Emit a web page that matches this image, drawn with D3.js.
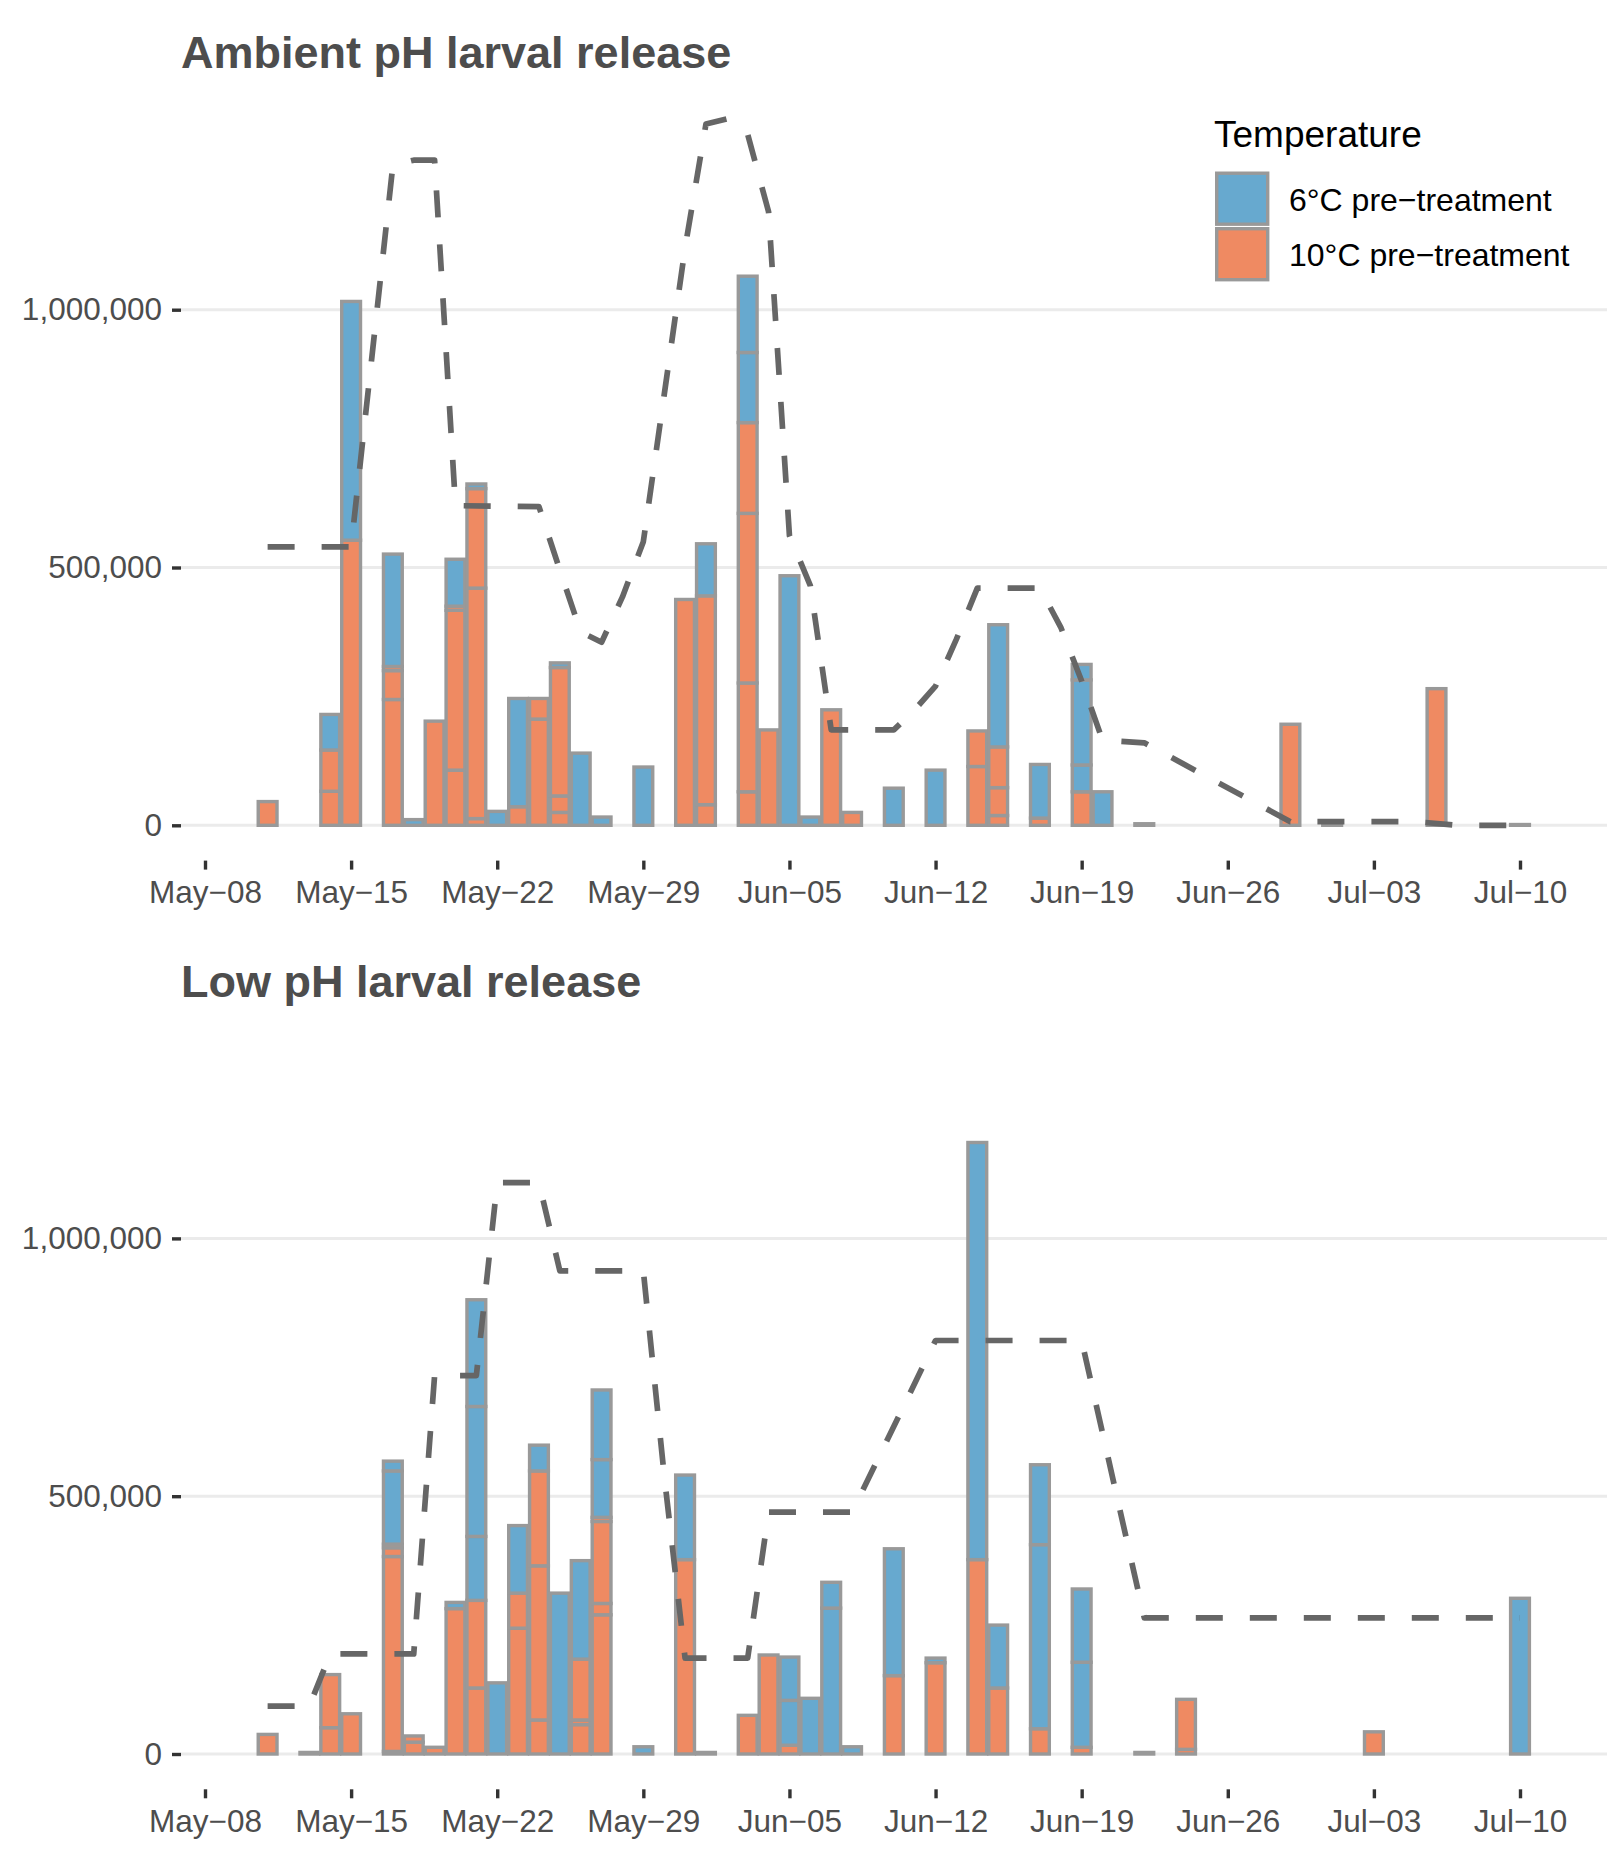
<!DOCTYPE html>
<html>
<head>
<meta charset="utf-8">
<script src="https://cdn.jsdelivr.net/npm/d3@7"></script>
<style>
  html, body { margin: 0; padding: 0; background: #ffffff; }
  svg { display: block; }
  text { font-family: "Liberation Sans", Arial, Helvetica, sans-serif; }
</style>
</head>
<body>
<script>
// ---------------- DATA ----------------
const xTickDates = ["05-08","05-15","05-22","05-29","06-05","06-12","06-19","06-26","07-03","07-10"];
const yTickValues = [0, 500000, 1000000];
const legendLabels = ["6\u00B0C pre\u2212treatment", "10\u00B0C pre\u2212treatment"];
const panelTitles = ["Ambient pH larval release", "Low pH larval release"];

// Ambient pH: bars (stacked segments, bottom-up). warm = 10°C, cold = 6°C
const ambientDates = ["05-11","05-14","05-15","05-17","05-18","05-19","05-20","05-21","05-22","05-23",
  "05-24","05-25","05-26","05-27","05-29","05-31","06-01","06-03","06-04","06-05",
  "06-06","06-07","06-08","06-10","06-12","06-14","06-15","06-17","06-19","06-20",
  "06-22","06-29","07-01","07-06","07-10"];
const ambientWarm = [
  [46000],[66000,80000],[553000],[244000,56000,8000],[],[202000],[107000,310000,8000],[13000,447000,193000],[],[36000],
  [206000,40000],[25000,32000,249000],[],[],[],[438000],[40000,405000],[65000,211000,329000,176000],[185000],[],
  [],[224000],[25000],[],[],[114000,69000],[19000,54000,79000],[14000],[65000],[],
  [],[196000],[],[265000],[]
];
const ambientCold = [
  [],[69000],[463000],[218000],[11000],[],[91000],[9000],[27000],[210000],
  [],[9000],[140000],[16000],[113000],[],[101000],[136000,148000],[],[484000],
  [16000],[],[],[72000],[107000],[],[237000],[104000],[52000,165000,30000],[65000],
  [3000],[],[2000],[],[1500]
];
const ambientLineDates = ["05-11","05-15","05-16","05-17","05-18","05-19","05-20","05-24","05-25","05-26",
  "05-27","05-28","05-29","05-30","05-31","06-01","06-02","06-03","06-04","06-05",
  "06-06","06-07","06-10","06-11","06-12","06-13","06-14","06-17","06-18","06-19",
  "06-20","06-22","06-29","07-05","07-07","07-10"];
const ambientLineValues = [540000,540000,910000,1280000,1290000,1290000,620000,618000,495000,375000,
  355000,443000,550000,835000,1120000,1360000,1370000,1340000,1190000,562000,
  465000,185000,185000,224000,270000,361000,460000,460000,384000,280000,
  165000,160000,7000,7000,0,0];

// Low pH
const lowDates = ["05-11","05-13","05-14","05-15","05-17","05-18","05-19","05-20","05-21","05-22",
  "05-23","05-24","05-25","05-26","05-27","05-29","05-31","06-01","06-03","06-04",
  "06-05","06-06","06-07","06-08","06-10","06-12","06-14","06-15","06-17","06-19",
  "06-22","06-24","07-03","07-10"];
const lowWarm = [
  [38000],[],[51000,103000],[78000],[5000,378000,17000,7000],[23000,12000],[13000],[282000],[128000,170000],[],
  [244000,68000],[66000,299000,184000],[],[57000,9000,118000],[270000,22000,159000,8000],[],[377000],[],[75000],[192000],
  [17000],[],[],[],[152000],[177000],[377000],[128000],[49000],[13000],
  [],[9000,97000],[43000],[]
];
const lowCold = [
  [],[3000],[],[],[142000,19000],[],[],[12000],[124000,252000,207000],[138000],
  [131000],[50000],[312000],[191000],[112000,135000],[14000],[164000],[3000],[],[],
  [87000,84000],[108000],[283000,50000],[14000],[246000],[9000],[809000],[122000],[357000,155000],[165000,142000],
  [3000],[],[],[302000]
];
const lowLineDates = ["05-11","05-13","05-14","05-18","05-19","05-21","05-22","05-24","05-25","05-29",
  "05-30","05-31","06-03","06-04","06-08","06-12","06-19","06-22","07-10"];
const lowLineValues = [93000,93000,194000,194000,734000,734000,1108000,1108000,937000,937000,
  540000,186000,186000,469000,469000,802000,802000,264000,264000];

// ---------------- STYLE / LAYOUT ----------------
const W = 1624, H = 1856;
const colCold = "#67A9CF", colWarm = "#EF8A62";
const outline = "#999999";
const panelLeft = 181, panelRight = 1607;
const panelOffset = 928.7;
const parse = s => d3.utcParse("%Y-%m-%d")("2019-" + s);

const svg = d3.select("body").append("svg")
  .attr("width", W).attr("height", H).attr("viewBox", `0 0 ${W} ${H}`);

const x = d3.scaleUtc().domain([parse("05-08"), parse("07-10")]).range([205, 1520]);
const dayPx = x(parse("05-09")) - x(parse("05-08"));
const barW = 0.9 * dayPx;
const y = d3.scaleLinear().domain([0, 1000000]).range([825.3, 309.7]);
const axisY = 860.6;

function drawPanel(g, title, dates, warm, cold, lineDates, lineValues, showLegend) {
  // title
  g.append("text")
    .attr("x", panelLeft).attr("y", 68)
    .attr("font-size", 45).attr("font-weight", "bold").attr("fill", "#4D4D4D")
    .text(title);

  // gridlines
  g.append("g").selectAll("line").data(yTickValues).join("line")
    .attr("x1", panelLeft).attr("x2", panelRight)
    .attr("y1", d => y(d)).attr("y2", d => y(d))
    .attr("stroke", "#EBEBEB").attr("stroke-width", 3);

  // bars: build stacked segments
  const segs = [];
  dates.forEach((ds, i) => {
    const dt = parse(ds);
    let base = 0;
    warm[i].forEach(v => { segs.push({date: dt, y0: base, y1: base + v, fill: colWarm}); base += v; });
    cold[i].forEach(v => { segs.push({date: dt, y0: base, y1: base + v, fill: colCold}); base += v; });
  });
  g.append("g").selectAll("rect").data(segs).join("rect")
    .attr("x", d => x(d.date) - barW / 2)
    .attr("width", barW)
    .attr("y", d => y(d.y1))
    .attr("height", d => Math.max(0, y(d.y0) - y(d.y1)))
    .attr("fill", d => d.fill)
    .attr("stroke", outline).attr("stroke-width", 3.4);

  // dashed line
  const pts = lineDates.map((ds, i) => ({date: parse(ds), value: lineValues[i]}));
  g.append("path").datum(pts)
    .attr("d", d3.line().x(d => x(d.date)).y(d => y(d.value)))
    .attr("fill", "none").attr("stroke", "#666666").attr("stroke-width", 5.7)
    .attr("stroke-dasharray", "27,27").attr("stroke-linejoin", "round");

  // y axis
  const ya = g.append("g").attr("transform", `translate(${panelLeft},0)`)
    .call(d3.axisLeft(y).tickValues(yTickValues).tickFormat(d3.format(",")).tickSize(9).tickPadding(10));
  ya.select(".domain").remove();
  ya.selectAll(".tick line").attr("stroke", "#333333").attr("stroke-width", 3.4);
  ya.selectAll(".tick text").attr("font-size", 31.5).attr("fill", "#4D4D4D")
    .attr("font-family", "'Liberation Sans', Arial, Helvetica, sans-serif");

  // x axis
  const xa = g.append("g").attr("transform", `translate(0,${axisY})`)
    .call(d3.axisBottom(x).tickValues(xTickDates.map(parse)).tickFormat(d3.utcFormat("%b\u2212%d")).tickSize(9).tickPadding(11));
  xa.select(".domain").remove();
  xa.selectAll(".tick line").attr("stroke", "#333333").attr("stroke-width", 3.4);
  xa.selectAll(".tick text").attr("font-size", 31.5).attr("fill", "#4D4D4D")
    .attr("font-family", "'Liberation Sans', Arial, Helvetica, sans-serif");

  if (showLegend) {
    const lg = g.append("g");
    lg.append("text").attr("x", 1214).attr("y", 147).attr("font-size", 37).attr("fill", "#000")
      .text("Temperature");
    const keyCols = [colCold, colWarm];
    lg.selectAll("rect").data(legendLabels).join("rect")
      .attr("x", 1216.7).attr("y", (d, i) => 173.2 + i * 55.5)
      .attr("width", 51).attr("height", 51)
      .attr("fill", (d, i) => keyCols[i]).attr("stroke", outline).attr("stroke-width", 3.4);
    lg.selectAll("text.lab").data(legendLabels).join("text").attr("class", "lab")
      .attr("x", 1289).attr("y", (d, i) => 210.8 + i * 55.3)
      .attr("font-size", 32).attr("fill", "#000")
      .text(d => d);
  }
}

drawPanel(svg.append("g"), panelTitles[0], ambientDates, ambientWarm, ambientCold, ambientLineDates, ambientLineValues, true);
drawPanel(svg.append("g").attr("transform", `translate(0,${panelOffset})`), panelTitles[1], lowDates, lowWarm, lowCold, lowLineDates, lowLineValues, false);
</script>
</body>
</html>
